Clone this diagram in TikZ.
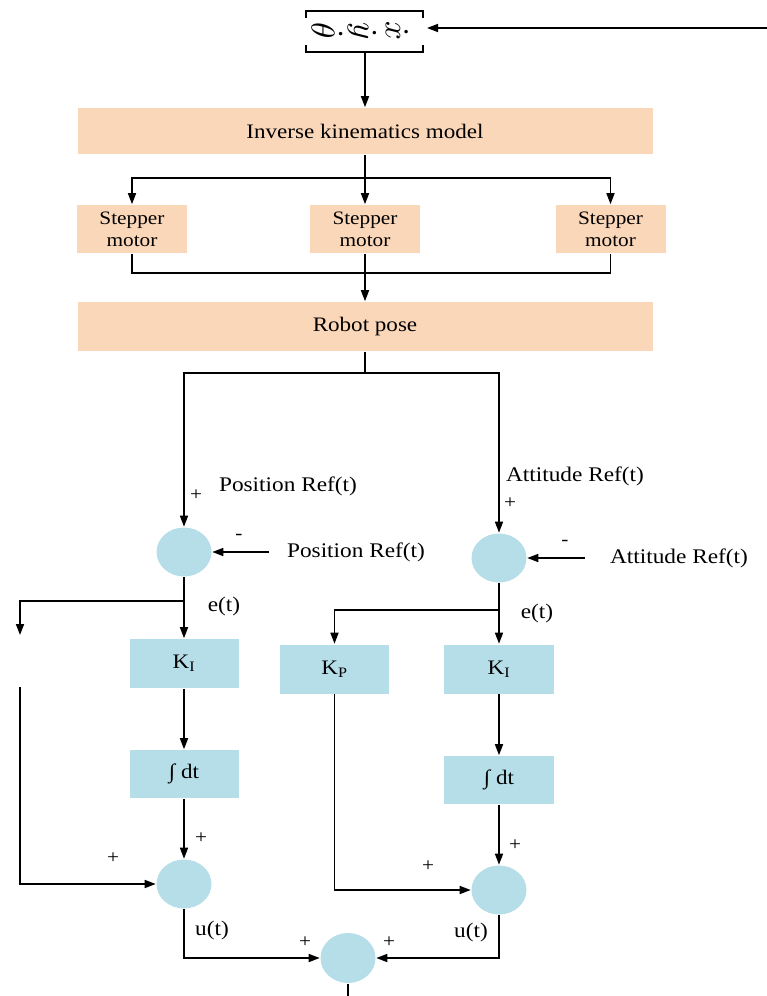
\documentclass[tikz,border=0pt]{standalone}
\usepackage{fontspec}
\setmainfont{Liberation Serif}[FakeStretch=1.12]
\usetikzlibrary{shapes.geometric,arrows.meta}
\begin{document}
\begin{tikzpicture}[x=1pt,y=-1pt,
  line width=1.6pt,
  arr/.style={-{Triangle[length=11pt,width=8pt]}},
  peach/.style={fill=peachc,draw=none,inner sep=0pt,font=\fontsize{20.6}{24}\selectfont},
  bluebox/.style={fill=bluec,draw=none,inner sep=0pt,minimum width=109pt,minimum height=49pt,font=\fontsize{20.6}{24}\selectfont},
  sumc/.style={ellipse,fill=bluec,draw=none,inner sep=0pt,minimum width=55pt,minimum height=49pt},
  lbl/.style={inner sep=0pt,font=\fontsize{20.8}{24}\selectfont},
  sgn/.style={inner sep=0pt,font=\fontsize{19}{22}\selectfont},
  vecl/.style={inner sep=0pt}]
\definecolor{peachc}{RGB}{251,215,186}
\definecolor{bluec}{RGB}{182,222,232}
\useasboundingbox (0,0) rectangle (767,996);
% top vector
\node[minimum width=117pt,minimum height=42pt,inner sep=0pt] (vec) at (365,31) {};
\draw[line width=1.2pt] (306,18) -- (306,11) -- (423,11) -- (423,18);
\draw[line width=1.2pt] (306,45) -- (306,52) -- (423,52) -- (423,45);
\node[vecl] (th) at (327,31) {\rotatebox{-90}{\scalebox{3.3}{$\dot\theta$}}};
\node[vecl] (yy) at (362,31) {\rotatebox{-90}{\scalebox{3.3}{$\dot y$}}};
\node[vecl] (xx) at (397,31) {\rotatebox{-90}{\scalebox{3.3}{$\dot x$}}};
\coordinate (inR) at (767,28);
\draw[arr] (inR) -- (427,28);
% IK
\node[peach,minimum width=575pt,minimum height=46pt] (ik) at (365,131) {Inverse kinematics model};
\draw[arr] (vec.south) -- (ik.north);
% steppers
\node[peach,minimum width=110pt,minimum height=48pt,align=center,font=\fontsize{19}{22}\selectfont] (sm1) at (132,229) {Stepper\\motor};
\node[peach,minimum width=110pt,minimum height=48pt,align=center,font=\fontsize{19}{22}\selectfont] (sm2) at (365,229) {Stepper\\motor};
\node[peach,minimum width=110pt,minimum height=48pt,align=center,font=\fontsize{19}{22}\selectfont] (sm3) at (610.5,229) {Stepper\\motor};
\coordinate (s1) at (365,178);
\draw (ik.south) -- (s1);
\draw[arr] (s1) -- (sm2.north);
\draw[arr] (s1) -| (sm1.north);
\draw[arr] (s1) -| (sm3.north);
% robot pose
\node[peach,minimum width=575pt,minimum height=49pt] (rp) at (365,326.5) {Robot pose};
\coordinate (j1) at (365,273);
\draw (sm1.south) |- (j1);
\draw (sm3.south) |- (j1);
\draw[arr] (sm2.south) -- (rp.north);
% split
\coordinate (s2) at (365,373);
\node[sumc] (sumP) at (184,552) {};
\node[sumc] (sumA) at (499,558) {};
\draw (rp.south) -- (s2);
\draw[arr] (s2) -| (sumP.north);
\draw[arr] (s2) -| (sumA.north);
\node[lbl] (tP) at (288,486) {Position Ref(t)};
\node[sgn] at (196,495) {+};
\node[lbl] (tA) at (575,476) {Attitude Ref(t)};
\node[sgn] at (510,503) {+};
% refs
\node[lbl] (refP) at (356,552) {Position Ref(t)};
\node[lbl] (refA) at (679,558) {Attitude Ref(t)};
\draw[arr] ([xshift=-17pt]refP.west) -- (sumP.east);
\draw[arr] ([xshift=-24pt]refA.west) -- (sumA.east);
\node[sgn] at (239,537) {-};
\node[sgn] at (565,543) {-};
% left chain
\node[bluebox] (kiL) at (184,663.5) {K\textsubscript{I}};
\node[bluebox,minimum height=48pt] (intL) at (184,774) {∫ dt};
\node[sumc] (sumPL) at (184,884) {};
\coordinate (e1) at (184,601);
\coordinate (kpLt) at (20,635);
\coordinate (kpLb) at (20,687);
\draw[arr] (sumP.south) -- (kiL.north);
\draw[arr] (e1) -| (kpLt);
\draw[arr] (kpLb) |- (sumPL.west);
\draw[arr] (kiL.south) -- (intL.north);
\draw[arr] (intL.south) -- (sumPL.north);
\node[lbl] at (224,606) {e(t)};
\node[sgn] at (201,838) {+};
\node[sgn] at (113,858) {+};
\node[lbl] at (212,930) {u(t)};
% right chain
\node[bluebox] (kpR) at (334.5,669) {K\textsubscript{P}};
\node[bluebox,minimum width=110pt] (kiR) at (499,669) {K\textsubscript{I}};
\node[bluebox,minimum width=110pt,minimum height=48pt] (intR) at (499,780) {∫ dt};
\node[sumc] (sumAL) at (499,890) {};
\coordinate (e2) at (499,610);
\draw[arr] (sumA.south) -- (kiR.north);
\draw[arr] (e2) -| (kpR.north);
\draw[arr] (kiR.south) -- (intR.north);
\draw[arr] (intR.south) -- (sumAL.north);
\draw[arr] (kpR.south) |- (sumAL.west);
\node[lbl] at (537,613) {e(t)};
\node[sgn] at (515,845) {+};
\node[sgn] at (428,866) {+};
\node[lbl] at (471,932) {u(t)};
% final sum
\node[sumc,minimum height=50pt] (fin) at (348,958) {};
\draw[arr] (sumPL.south) |- (fin.west);
\draw[arr] (sumAL.south) |- (fin.east);
\coordinate (out) at (348,996);
\draw (fin.south) -- (out);
\node[sgn] at (305,942) {+};
\node[sgn] at (389,942) {+};
\end{tikzpicture}
\end{document}
